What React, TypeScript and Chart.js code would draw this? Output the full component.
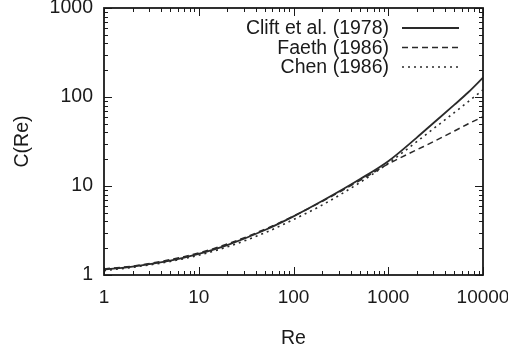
import React, { useEffect, useRef } from "react";
import { Chart, registerables } from "chart.js";

Chart.register(...registerables);

// Reynolds numbers at which the curves were read
const reValues = [1, 2, 5, 10, 20, 50, 100, 200, 500, 1000, 2000, 3000, 5000, 7000, 10000];
// Clift et al. (1978) – solid
const cliftValues = [1.15, 1.24, 1.45, 1.73, 2.17, 3.2, 4.56, 6.77, 11.9, 19.0, 35.0, 51.0, 82, 113, 165];
// Faeth (1986) – dashed
const faethValues = [1.17, 1.26, 1.49, 1.77, 2.23, 3.27, 4.59, 6.7, 11.5, 17.7, 25.5, 31.5, 41.5, 50, 60];
// Chen (1986) – dotted
const chenValues = [1.12, 1.22, 1.42, 1.67, 2.07, 2.98, 4.2, 6.1, 10.9, 18.0, 31.5, 44, 67, 89, 120];

const seriesLabels = ["Clift et al. (1978)", "Faeth (1986)", "Chen (1986)"];
const xTickValues = [1, 10, 100, 1000, 10000];
const xTickLabels = ["1", "10", "100", "1000", "10000"];
const yTickValues = [1, 10, 100, 1000];
const yTickLabels = ["1", "10", "100", "1000"];

const FONT = "'Liberation Sans', Arial, Helvetica, sans-serif";
const INK = "#1a1a1a";

const frameTicks = {
  id: "frameTicks",
  afterDatasetsDraw(chart: any) {
    const { ctx, chartArea, scales } = chart;
    const { left, right, top, bottom } = chartArea;
    const x = scales.x;
    const y = scales.y;
    ctx.save();
    ctx.strokeStyle = INK;
    ctx.lineWidth = 1;
    ctx.beginPath();
    for (let d = 1; d < 10000; d *= 10) {
      for (let m = 1; m <= 10; m++) {
        const v = d * m;
        if (v > 10000) continue;
        const px = Math.round(x.getPixelForValue(v)) + 0.5;
        const len = m === 1 || m === 10 ? 8 : 4;
        ctx.moveTo(px, bottom);
        ctx.lineTo(px, bottom - len);
        ctx.moveTo(px, top);
        ctx.lineTo(px, top + len);
      }
    }
    for (let d = 1; d < 1000; d *= 10) {
      for (let m = 1; m <= 10; m++) {
        const v = d * m;
        const py = Math.round(y.getPixelForValue(v)) + 0.5;
        const len = m === 1 || m === 10 ? 8 : 4;
        ctx.moveTo(left, py);
        ctx.lineTo(left + len, py);
        ctx.moveTo(right, py);
        ctx.lineTo(right - len, py);
      }
    }
    ctx.stroke();
    ctx.lineWidth = 1.8;
    ctx.strokeRect(left, top, right - left, bottom - top);

    // legend (text right-aligned, line sample to its right)
    const datasets = chart.data.datasets;
    ctx.font = `19.5px ${FONT}`;
    ctx.textAlign = "right";
    ctx.textBaseline = "middle";
    datasets.forEach((ds: any, i: number) => {
      const rowY = 28 + i * 19.5;
      ctx.fillStyle = INK;
      ctx.fillText(ds.label, 389, rowY + 1);
      ctx.beginPath();
      ctx.setLineDash(ds.borderDash || []);
      ctx.lineWidth = ds.borderWidth;
      ctx.strokeStyle = ds.borderColor;
      ctx.moveTo(402, rowY);
      ctx.lineTo(459, rowY);
      ctx.stroke();
    });
    ctx.setLineDash([]);
    ctx.restore();
  },
};

export default function App() {
  const ref = useRef<HTMLCanvasElement | null>(null);

  useEffect(() => {
    if (!ref.current) return;
    const mk = (vals: number[]) => reValues.map((r, i) => ({ x: r, y: vals[i] }));
    const chart = new Chart(ref.current, {
      type: "line",
      data: {
        datasets: [
          {
            label: seriesLabels[0],
            data: mk(cliftValues),
            borderColor: "#2a2a2a",
            borderWidth: 1.8,
            pointRadius: 0,
            cubicInterpolationMode: "monotone",
          },
          {
            label: seriesLabels[1],
            data: mk(faethValues),
            borderColor: "#2a2a2a",
            borderWidth: 1.5,
            borderDash: [6, 4],
            pointRadius: 0,
            cubicInterpolationMode: "monotone",
          },
          {
            label: seriesLabels[2],
            data: mk(chenValues),
            borderColor: "#2a2a2a",
            borderWidth: 1.6,
            borderDash: [2, 4],
            pointRadius: 0,
            cubicInterpolationMode: "monotone",
          },
        ],
      },
      options: {
        animation: false,
        responsive: false,
        layout: { padding: { top: 8, right: 25, bottom: 0, left: 0 } },
        plugins: { legend: { display: false }, tooltip: { enabled: false } },
        scales: {
          x: {
            type: "logarithmic",
            min: 1,
            max: 10000,
            grid: { display: false, drawTicks: false },
            border: { display: false },
            afterBuildTicks: (s: any) => {
              s.ticks = xTickValues.map((v) => ({ value: v }));
            },
            afterFit: (s: any) => {
              s.height = 77;
              s.paddingRight = 0;
              s.paddingLeft = 0;
            },
            ticks: {
              autoSkip: false,
              maxRotation: 0,
              padding: 11,
              color: INK,
              font: { family: FONT, size: 19 },
              callback: (v: any) => {
                const i = xTickValues.indexOf(Number(v));
                return i >= 0 ? xTickLabels[i] : "";
              },
            },
            title: {
              display: true,
              text: "Re",
              color: INK,
              font: { family: FONT, size: 19.5 },
              padding: { top: 0, bottom: 2 },
            },
          },
          y: {
            type: "logarithmic",
            min: 1,
            max: 1000,
            grid: { display: false, drawTicks: false },
            border: { display: false },
            afterBuildTicks: (s: any) => {
              s.ticks = yTickValues.map((v) => ({ value: v }));
            },
            afterFit: (s: any) => {
              s.width = 104;
              s.paddingTop = 0;
              s.paddingBottom = 0;
            },
            ticks: {
              autoSkip: false,
              padding: 11,
              color: INK,
              font: { family: FONT, size: 19.5 },
              callback: (v: any) => {
                const i = yTickValues.indexOf(Number(v));
                return i >= 0 ? yTickLabels[i] : "";
              },
            },
            title: {
              display: true,
              text: "C(Re)",
              color: INK,
              font: { family: FONT, size: 19.5 },
              padding: { top: 11, bottom: 0 },
            },
          },
        },
      },
      plugins: [frameTicks],
    } as any);
    return () => chart.destroy();
  }, []);

  return (
    <div style={{ position: "absolute", left: 0, top: 0, width: 508, height: 352, background: "#fff" }}>
      <canvas ref={ref} width={508} height={352} />
    </div>
  );
}
